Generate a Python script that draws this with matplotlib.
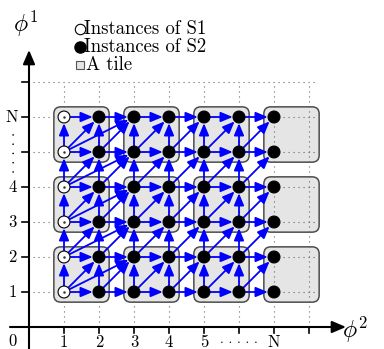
import numpy as np
import matplotlib
matplotlib.use('Agg')
import matplotlib.pyplot as plt
from matplotlib.patches import FancyBboxPatch, FancyArrowPatch, Circle

plt.rcParams['mathtext.fontset'] = 'cm'
plt.rcParams['font.family'] = ['cmr10', 'DejaVu Serif']

# grid of instances
node_cols = [1, 2, 3, 4, 5, 6, 7]
node_rows = [1, 2, 3, 4, 5, 6]
s1_cols = [1]                      # white nodes
s2_cols = [2, 3, 4, 5, 6, 7]       # black nodes
src_cols = [1, 2, 3, 4, 5, 6]      # nodes that send arrows
# dependency steps (dx, dy) from every sending node
steps = [(1, 0), (0, 1), (1, 1)]
# extra long dependencies from the S1 column
long_steps = [(2, 1)]

# tiles (lower-left node of each 2x2 tile)
tile_cols = [1, 3, 5, 7]
tile_rows = [1, 3, 5]

# axes ticks
x_ticks = [1, 2, 3, 4, 5, 6, 7, 8]
x_labels = ['1', '2', '3', '4', '5', '', 'N', '']
y_ticks = [1, 2, 3, 4, 5, 6, 7]
y_labels = ['1', '2', '3', '4', '', 'N', '']
grid_top = 7
grid_right = 8.17

blue = '#0000ff'

fig = plt.figure(figsize=(3.84, 3.49), dpi=100)
ax = fig.add_axes([0, 0, 1, 1])
ox, oy = 29.0, 327.0
u = 35.0
ax.set_xlim(-ox / u, (384 - ox) / u)
ax.set_ylim((oy - 349) / u, oy / u)
ax.set_aspect('equal')
ax.axis('off')

# tiles
pad = 0.29
for tc in tile_cols:
    for tr in tile_rows:
        ax.add_patch(FancyBboxPatch((tc - pad, tr - pad), 1 + 2 * pad, 1 + 2 * pad,
                                    boxstyle='round,pad=0,rounding_size=0.2',
                                    fc='#e5e5e5', ec='#4d4d4d', lw=1.1, zorder=1))

# dotted grid
for xt in x_ticks:
    ax.plot([xt, xt], [0, grid_top], ls=(0, (1, 3.5)), color='#666666', lw=0.8, zorder=2)
for yt in y_ticks:
    ax.plot([0.1, grid_right], [yt, yt], ls=(0, (1, 3.5)), color='#666666', lw=0.8, zorder=2)

# arrows
def arrow(p, q):
    ax.add_patch(FancyArrowPatch(p, q, arrowstyle='-|>,head_length=0.6,head_width=0.25',
                                 mutation_scale=12, color=blue, lw=1.3,
                                 shrinkA=4.5, shrinkB=4.5, zorder=3))

for c in src_cols:
    for r in node_rows:
        for dx, dy in steps:
            if r + dy in node_rows and c + dx in node_cols:
                arrow((c, r), (c + dx, r + dy))
for c in s1_cols:
    for r in node_rows:
        for dx, dy in long_steps:
            if r + dy in node_rows:
                arrow((c, r), (c + dx, r + dy))

# nodes
rad = 0.17
for c in s1_cols:
    for r in node_rows:
        ax.add_patch(Circle((c, r), rad, fc='white', ec='black', lw=0.8, zorder=4))
        ax.plot(c, r, 'o', ms=0.8, color='#333333', zorder=5)
for c in s2_cols:
    for r in node_rows:
        ax.add_patch(Circle((c, r), rad, fc='black', ec='black', lw=0.8, zorder=4))

# coordinate axes
ax.add_patch(FancyArrowPatch(((10 - ox) / u, 0), ((346 - ox) / u, 0),
                             arrowstyle='-|>,head_length=0.7,head_width=0.3',
                             mutation_scale=12, color='black', lw=1.5, shrinkA=0, shrinkB=0, zorder=3))
ax.add_patch(FancyArrowPatch((0, (oy - 349) / u), (0, (oy - 50) / u),
                             arrowstyle='-|>,head_length=0.7,head_width=0.3',
                             mutation_scale=12, color='black', lw=1.5, shrinkA=0, shrinkB=0, zorder=3))
for xt, lab in zip(x_ticks, x_labels):
    ax.plot([xt, xt], [0, -0.17], color='black', lw=1.2, zorder=3)
    ax.text(xt, -0.45, lab, ha='center', va='center', fontsize=12)
for yt, lab in zip(y_ticks, y_labels):
    ax.plot([-0.2, 0], [yt, yt], color='black', lw=1.2, zorder=3)
    ax.text(-0.48, yt, lab, ha='center', va='center', fontsize=12)
ax.text(6, -0.36, '. . . . .', ha='center', va='center', fontsize=10)
ax.text(-0.52, 5, '. . . . .', ha='center', va='center', fontsize=11, rotation=90)
ax.text(-0.46, -0.42, '0', ha='center', va='center', fontsize=12)

ax.text((13 - ox) / u, (oy - 24) / u, r'$\phi^1$', ha='left', va='center', fontsize=17)
ax.text((342 - ox) / u, (oy - 330) / u, r'$\phi^2$', ha='left', va='center', fontsize=17)

# legend
lx = (80 - ox) / u
tx = (84 - ox) / u
ax.plot(lx, (oy - 29) / u, 'o', ms=7.5, mfc='white', mec='black', mew=0.8)
ax.text(tx, (oy - 29) / u, 'Instances of S1', ha='left', va='center', fontsize=13.5)
ax.plot(lx, (oy - 47) / u, 'o', ms=8, mfc='black', mec='black')
ax.text(tx, (oy - 47) / u, 'Instances of S2', ha='left', va='center', fontsize=13.5)
ax.plot(lx, (oy - 65) / u, 's', ms=6, mfc='#e5e5e5', mec='#555555', mew=0.8)
ax.text(tx + 0.05, (oy - 65) / u, 'A tile', ha='left', va='center', fontsize=13.5)

fig.savefig('out.png', dpi=100)
